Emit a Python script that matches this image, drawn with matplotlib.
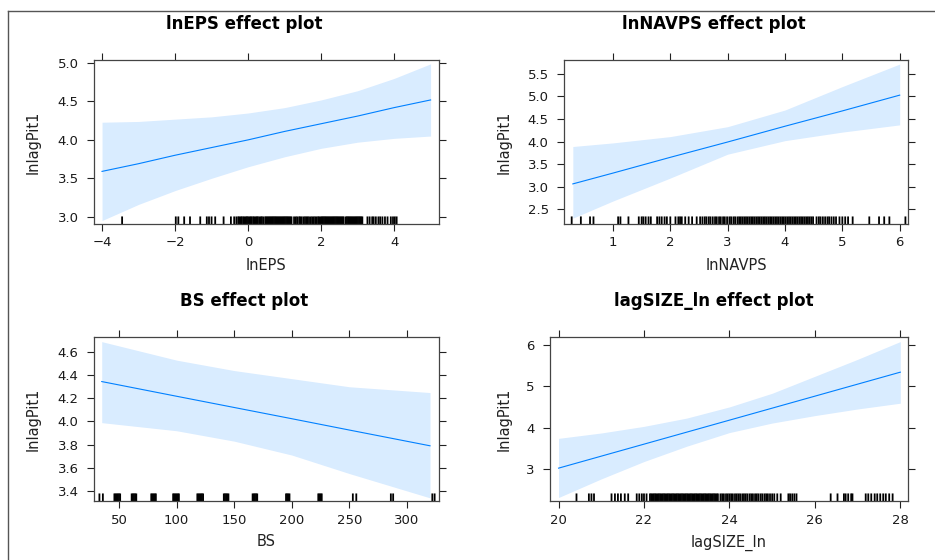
import matplotlib
matplotlib.use("Agg")
import matplotlib.pyplot as plt
from matplotlib.lines import Line2D

W, H = 935, 560

# --- lnEPS panel ---
eps_x = [-4, -3, -2, -1, 0, 1, 2, 3, 4, 5]
eps_fit = [3.59, 3.69, 3.80, 3.90, 4.00, 4.11, 4.21, 4.31, 4.42, 4.52]
eps_upper = [4.23, 4.24, 4.27, 4.30, 4.35, 4.42, 4.52, 4.64, 4.80, 4.99]
eps_lower = [2.95, 3.16, 3.34, 3.50, 3.65, 3.78, 3.89, 3.97, 4.02, 4.05]
eps_rug = [-3.45, -1.98, -1.91, -1.75, -1.59, -1.31, -1.13, -1.07, -1.0, -0.90,
           -0.67, -0.47, -0.38, -0.32, -0.27, -0.24, -0.2, -0.17, -0.13, -0.1,
           -0.06, -0.03, 0.0, 0.04, 0.07, 0.1, 0.14, 0.17, 0.21, 0.24, 0.27,
           0.31, 0.35, 0.38, 0.42, 0.47, 0.5, 0.53, 0.56, 0.59, 0.62, 0.65,
           0.68, 0.71, 0.74, 0.77, 0.8, 0.83, 0.86, 0.89, 0.92, 0.95, 0.98,
           1.01, 1.04, 1.07, 1.1, 1.13, 1.16, 1.19, 1.26, 1.31, 1.35, 1.4,
           1.43, 1.47, 1.52, 1.56, 1.6, 1.63, 1.67, 1.72, 1.76, 1.8, 1.84,
           1.88, 1.92, 1.95, 1.99, 2.02, 2.05, 2.08, 2.11, 2.14, 2.17, 2.2,
           2.23, 2.26, 2.29, 2.32, 2.35, 2.38, 2.41, 2.44, 2.47, 2.5, 2.53,
           2.56, 2.59, 2.62, 2.68, 2.71, 2.74, 2.77, 2.8, 2.83, 2.86, 2.89,
           2.92, 2.95, 2.98, 3.01, 3.04, 3.07, 3.1, 3.13, 3.27, 3.33, 3.4,
           3.44, 3.5, 3.57, 3.62, 3.68, 3.75, 3.82, 3.91, 3.97, 4.02, 4.07]

# --- lnNAVPS panel ---
nav_x = [0.3, 1, 2, 3, 4, 5, 6]
nav_fit = [3.06, 3.30, 3.65, 3.99, 4.34, 4.68, 5.03]
nav_upper = [3.89, 3.97, 4.11, 4.33, 4.70, 5.22, 5.72]
nav_lower = [2.30, 2.68, 3.19, 3.72, 4.02, 4.21, 4.37]
nav_rug = [0.28, 0.44, 0.60, 0.66, 1.09, 1.13, 1.27, 1.45, 1.5, 1.53, 1.57,
           1.62, 1.66, 1.77, 1.81, 1.85, 1.9, 1.94, 2.0, 2.09, 2.14, 2.17,
           2.2, 2.26, 2.32, 2.38, 2.46, 2.52, 2.56, 2.6, 2.63, 2.67, 2.7,
           2.74, 2.78, 2.81, 2.85, 2.88, 2.92, 2.95, 2.99, 3.03, 3.06, 3.1,
           3.13, 3.17, 3.2, 3.23, 3.26, 3.29, 3.32, 3.35, 3.38, 3.41, 3.44,
           3.47, 3.5, 3.53, 3.56, 3.59, 3.62, 3.65, 3.68, 3.71, 3.74, 3.77,
           3.8, 3.83, 3.86, 3.89, 3.92, 3.95, 3.98, 4.01, 4.04, 4.07, 4.1,
           4.13, 4.16, 4.19, 4.22, 4.25, 4.28, 4.31, 4.34, 4.37, 4.4, 4.43,
           4.46, 4.49, 4.55, 4.59, 4.62, 4.66, 4.7, 4.74, 4.77, 4.81, 4.85,
           4.89, 4.95, 5.0, 5.05, 5.1, 5.18, 5.47, 5.64, 5.73, 5.82, 6.1]

# --- BS panel ---
bs_x = [35, 100, 150, 200, 250, 320]
bs_fit = [4.345, 4.218, 4.121, 4.024, 3.926, 3.79]
bs_upper = [4.69, 4.53, 4.44, 4.37, 4.30, 4.25]
bs_lower = [3.99, 3.92, 3.83, 3.71, 3.55, 3.34]
bs_rug = [33, 36, 46, 47, 48, 49, 50, 51, 61, 62, 63, 64, 65, 78, 79, 80, 81,
          82, 97, 98, 99, 100, 101, 102, 118, 119, 120, 121, 122, 123, 141,
          142, 143, 144, 145, 166, 167, 168, 169, 170, 195, 196, 197, 198,
          223, 224, 225, 226, 253, 256, 286, 288, 322, 324]

# --- lagSIZE_ln panel ---
size_x = [20, 21, 22, 23, 24, 25, 26, 27, 28]
size_fit = [3.02, 3.31, 3.60, 3.89, 4.18, 4.47, 4.76, 5.05, 5.34]
size_upper = [3.74, 3.87, 4.03, 4.23, 4.50, 4.83, 5.24, 5.65, 6.08]
size_lower = [2.31, 2.76, 3.18, 3.55, 3.88, 4.11, 4.29, 4.45, 4.59]
size_rug = [20.42, 20.71, 20.77, 20.83, 21.24, 21.32, 21.39, 21.46, 21.55,
            21.63, 21.83, 21.89, 21.95, 22.0, 22.06, 22.14, 22.17, 22.2,
            22.23, 22.26, 22.29, 22.32, 22.35, 22.38, 22.41, 22.44, 22.47,
            22.5, 22.53, 22.56, 22.59, 22.62, 22.65, 22.68, 22.71, 22.74,
            22.77, 22.8, 22.83, 22.86, 22.89, 22.92, 22.95, 22.98, 23.01,
            23.04, 23.07, 23.1, 23.13, 23.16, 23.19, 23.22, 23.25, 23.28,
            23.31, 23.34, 23.37, 23.4, 23.43, 23.46, 23.49, 23.52, 23.55,
            23.58, 23.61, 23.64, 23.67, 23.7, 23.73, 23.79, 23.83, 23.87,
            23.92, 23.96, 24.0, 24.04, 24.08, 24.13, 24.17, 24.21, 24.25,
            24.3, 24.34, 24.38, 24.42, 24.47, 24.51, 24.55, 24.6, 24.64,
            24.68, 24.73, 24.77, 24.82, 24.86, 24.9, 24.95, 25.0, 25.05,
            25.12, 25.2, 25.38, 25.42, 25.47, 25.52, 25.57, 26.37, 26.53,
            26.68, 26.72, 26.78, 26.85, 26.88, 27.19, 27.25, 27.32, 27.4,
            27.46, 27.53, 27.6, 27.66, 27.74, 27.82]

LINE = "#0080ff"
BAND = "#d9ecff"
FRAME = "#444444"

panels = [
    # data, titles, limits, ticks, axes box in px, title / label positions in px
    (eps_x, eps_fit, eps_upper, eps_lower, eps_rug, "lnEPS effect plot", "lnEPS",
     (-4.22, 5.23), (2.905, 5.04), [-4, -2, 0, 2, 4], [3.0, 3.5, 4.0, 4.5, 5.0],
     (94, 60, 439, 224), 244, 24, 266, 265, 33),
    (nav_x, nav_fit, nav_upper, nav_lower, nav_rug, "lnNAVPS effect plot", "lnNAVPS",
     (0.146, 6.145), (2.17, 5.81), [1, 2, 3, 4, 5, 6],
     [2.5, 3.0, 3.5, 4.0, 4.5, 5.0, 5.5],
     (564, 60, 908, 224), 714, 24, 736, 265, 504),
    (bs_x, bs_fit, bs_upper, bs_lower, bs_rug, "BS effect plot", "BS",
     (28.3, 327.8), (3.313, 4.73), [50, 100, 150, 200, 250, 300],
     [3.4, 3.6, 3.8, 4.0, 4.2, 4.4, 4.6],
     (94, 337, 439, 501), 244, 301, 266, 542, 33),
    (size_x, size_fit, size_upper, size_lower, size_rug, "lagSIZE_ln effect plot",
     "lagSIZE_ln", (19.8, 28.18), (2.226, 6.19), [20, 22, 24, 26, 28], [3, 4, 5, 6],
     (550, 337, 908, 501), 714, 301, 729, 543, 504),
]

plt.rcParams["font.family"] = ["DejaVu Sans"]
fig = plt.figure(figsize=(W / 100, H / 100), dpi=100)

for (x, fit, up, lo, rug, title, xlabel, xlim, ylim, xt, yt, box,
     tx, ty, lx, ly, yx) in panels:
    l, t, r, b = box
    ax = fig.add_axes([l / W, 1 - b / H, (r - l) / W, (b - t) / H])
    ax.fill_between(x, lo, up, color=BAND, lw=0)
    ax.plot(x, fit, color=LINE, lw=0.8)
    rug_lines = ax.vlines(rug, 0, 0.046, color="black", lw=1.3,
                          transform=ax.get_xaxis_transform())
    rug_lines.set_snap(False)
    ax.set_xlim(*xlim)
    ax.set_ylim(*ylim)
    ax.set_xticks(xt)
    ax.set_yticks(yt)
    if isinstance(yt[0], float):
        ax.set_yticklabels([f"{v:.1f}" for v in yt])
    ax.tick_params(direction="out", top=True, right=True, length=5, width=0.8,
                   color="#222222", labelsize=9.5, labelcolor="#1a1a1a")
    ax.tick_params(axis="x", pad=4)
    ax.tick_params(axis="y", pad=6)
    for sp in ax.spines.values():
        sp.set_color(FRAME)
        sp.set_linewidth(0.9)
    fig.text(tx / W, 1 - ty / H, title, ha="center", va="center",
             fontsize=12, fontweight="bold", color="black")
    fig.text(lx / W, 1 - ly / H, xlabel, ha="center", va="center",
             fontsize=10.5, color="#222222")
    fig.text(yx / W, 1 - ((t + b) / 2) / H, "lnlagPit1", ha="center",
             va="center", rotation=90, fontsize=10.5, color="#222222")

# outer frame (top and left edges only)
fig.add_artist(Line2D([8 / W, 1], [1 - 11 / H, 1 - 11 / H], color="#555555",
                      lw=1, transform=fig.transFigure))
fig.add_artist(Line2D([8 / W, 8 / W], [1 - 11 / H, 0], color="#555555",
                      lw=1, transform=fig.transFigure))

fig.savefig("out.png", dpi=100)
